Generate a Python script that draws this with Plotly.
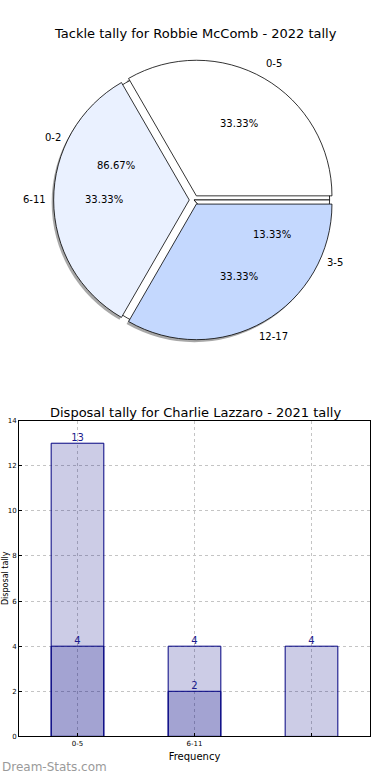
import math
import plotly.graph_objects as go

# ---------------- data ----------------
pie_title = "Tackle tally for Robbie McComb - 2022 tally"
pie_labels = ["0-5", "6-11", "12-17"]
pie_values = [5, 5, 5]
pie_colors = ["#ffffff", "#eaf1ff", "#c4d8fe"]

pie2_labels = ["0-2", "3-5"]
pie2_values = [13, 2]

bar_title = "Disposal tally for Charlie Lazzaro - 2021 tally"
bar_ticks = ["0-5", "6-11", ""]
bar_light = [13, 4, 4]
bar_dark = [4, 2, None]
x_title = "Frequency"
y_title = "Disposal tally"

# ---------------- geometry ----------------
W, H = 390, 780
cx, cy = 194, 198       # pie centre (px)
r = 137                 # pie radius (px)
pull = 0.035
D = r * (1 + pull)


def dom(cxp, cyp, half):
    return dict(x=[(cxp - half) / W, (cxp + half) / W],
                y=[1 - (cyp + half) / H, 1 - (cyp - half) / H])


def rot(values):
    # first slice starts at 3 o'clock and runs counter-clockwise
    return 90 - 360 * values[0] / sum(values)


fig = go.Figure()

# shadow
fig.add_trace(go.Pie(
    labels=[l + " " for l in pie_labels], values=pie_values, sort=False,
    direction="counterclockwise", rotation=rot(pie_values), pull=[pull] * 3,
    textinfo="none", hoverinfo="skip",
    marker=dict(colors=["rgba(110,110,110,0.6)"] * 3, line=dict(width=0)),
    domain=dom(cx - 2, cy + 2.5, D), showlegend=False))

# underlying second pie
fig.add_trace(go.Pie(
    labels=pie2_labels, values=pie2_values, sort=False, direction="counterclockwise",
    rotation=rot(pie2_values), textinfo="none", hoverinfo="skip",
    marker=dict(colors=["#ffffff", "#ffffff"], line=dict(color="black", width=0.8)),
    domain=dom(cx, cy, r), showlegend=False))

# main pie
fig.add_trace(go.Pie(
    labels=pie_labels, values=pie_values, sort=False, direction="counterclockwise",
    rotation=rot(pie_values), pull=[pull] * 3, textinfo="none", hoverinfo="skip",
    marker=dict(colors=pie_colors, line=dict(color="black", width=0.8)),
    domain=dom(cx, cy, D), showlegend=False))

annotations = []
font_lbl = dict(family="DejaVu Sans", size=10, color="black")


def pie_annots(labels, values, explode):
    tot = sum(values)
    start = 0.0
    for lab, v in zip(labels, values):
        frac = v / tot
        mid = math.radians((start + frac / 2) * 360)
        start += frac
        for dist, txt in ((0.62 + explode, f"{frac * 100:.2f}%"), (1.13 + explode, lab)):
            px = cx + dist * r * math.cos(mid)
            py = cy - dist * r * math.sin(mid)
            annotations.append(dict(x=px / W, y=1 - py / H, xref="paper", yref="paper",
                                    text=txt, showarrow=False, font=font_lbl,
                                    xanchor="center", yanchor="middle"))


pie_annots(pie_labels, pie_values, pull)
pie_annots(pie2_labels, pie2_values, 0)

# ---------------- bars ----------------
xs = list(range(len(bar_ticks)))
fig.add_trace(go.Bar(
    x=xs, y=bar_light, width=0.45, xaxis="x", yaxis="y",
    marker=dict(color="rgba(0,0,128,0.2)", line=dict(color="navy", width=1)),
    showlegend=False, hoverinfo="skip"))
fig.add_trace(go.Bar(
    x=xs, y=bar_dark, width=0.45, xaxis="x", yaxis="y",
    marker=dict(color="rgba(0,0,128,0.2)", line=dict(color="navy", width=1)),
    showlegend=False, hoverinfo="skip"))

# value labels drawn at the bar tops
lbl_x, lbl_y, lbl_t = [], [], []
for series in (bar_light, bar_dark):
    for x, v in zip(xs, series):
        if v is not None:
            lbl_x.append(x)
            lbl_y.append(v)
            lbl_t.append(str(v))
fig.add_trace(go.Scatter(
    x=lbl_x, y=lbl_y, text=lbl_t, mode="text", textposition="top center",
    textfont=dict(family="DejaVu Sans", size=10, color="#1a1a8c"),
    cliponaxis=False, showlegend=False, hoverinfo="skip", xaxis="x", yaxis="y"))

ax_x0, ax_x1, ax_y0, ax_y1 = 19, 370, 421, 740

annotations += [
    dict(x=195 / W, y=1 - 30 / H, xref="paper", yref="paper", text=pie_title, showarrow=False,
         font=dict(family="DejaVu Sans", size=13, color="black"),
         xanchor="center", yanchor="middle"),
    dict(x=195 / W, y=1 - 413 / H, xref="paper", yref="paper", text=bar_title,
         showarrow=False, font=dict(family="DejaVu Sans", size=13, color="black"),
         xanchor="center", yanchor="middle"),
    dict(x=5 / W, y=1 - 580 / H, xref="paper", yref="paper", text=y_title, textangle=-90,
         showarrow=False, font=dict(family="DejaVu Sans", size=8, color="black"),
         xanchor="center", yanchor="middle"),
    dict(x=0, y=1 - 771 / H, xref="paper", yref="paper", text="Dream-Stats.com",
         showarrow=False, font=dict(family="DejaVu Sans", size=12, color="#9a9a9a"),
         xanchor="left", yanchor="middle"),
]

grid = dict(showgrid=True, gridcolor="#c4c4c4", griddash="dot", gridwidth=1)
fig.update_layout(
    width=W, height=H, margin=dict(l=0, r=0, t=0, b=0),
    paper_bgcolor="white", plot_bgcolor="white", barmode="overlay",
    font=dict(family="DejaVu Sans", color="black"),
    annotations=annotations,
    xaxis=dict(domain=[ax_x0 / W, ax_x1 / W], range=[-0.5, 2.5], tickvals=xs, ticktext=bar_ticks,
               tickfont=dict(size=7), showline=True, linecolor="black", linewidth=1, mirror=True,
               ticks="inside", ticklen=3, tickcolor="black", zeroline=False,
               title=dict(text=x_title, font=dict(size=10), standoff=6), **grid),
    yaxis=dict(domain=[1 - ax_y1 / H, 1 - ax_y0 / H], range=[0, 14], dtick=2,
               tickfont=dict(size=7), showline=True, linecolor="black", linewidth=1, mirror=True,
               ticks="inside", ticklen=3, tickcolor="black", zeroline=False, **grid),
)

fig.write_html("out.html", config={"displayModeBar": False},
               post_script="document.body.style.margin='0px';document.body.style.overflow='hidden';")
